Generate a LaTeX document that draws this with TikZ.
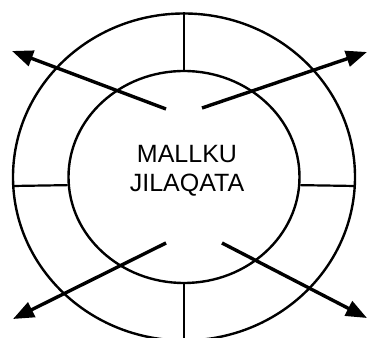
\documentclass[tikz,border=0pt]{standalone}
\usepackage{fontspec}
\setmainfont{Liberation Sans}
\usetikzlibrary{arrows.meta,shapes.geometric}

\begin{document}
\begin{tikzpicture}[x=1pt,y=1pt,
ring/.style={draw,ellipse,line width=2.4pt,inner sep=0pt},
div/.style={line width=2.2pt},
arr/.style={-{Triangle[length=21pt,width=16pt]},line width=3.4pt}]
\useasboundingbox (0,0) rectangle (369,337);
\node[ring,minimum width=342pt,minimum height=327pt] (outer) at (184,160) {};
\node[ring,minimum width=231pt,minimum height=212pt] (inner) at (184,160) {};
\node[font=\fontsize{25}{29}\selectfont,align=center] (name) at (187,166) {MALLKU\\JILAQATA};
\draw[div] (inner.north)--(outer.north); \draw[div] (inner.south)--(outer.south);
\draw[div] (inner.184.5)--(outer.183); \draw[div] (inner.356.5)--(outer.357.5);
% arrows out of the centre
\coordinate (ul) at (166,228); \coordinate (ulx) at (12,286);
\coordinate (ur) at (202,229); \coordinate (urx) at (367,285);
\coordinate (ll) at (166,94); \coordinate (llx) at (13,18);
\coordinate (lr) at (222,94); \coordinate (lrx) at (367,19);
\draw[arr] (ul)--(ulx); \draw[arr] (ur)--(urx);
\draw[arr] (ll)--(llx); \draw[arr] (lr)--(lrx);
\end{tikzpicture}
\end{document}
